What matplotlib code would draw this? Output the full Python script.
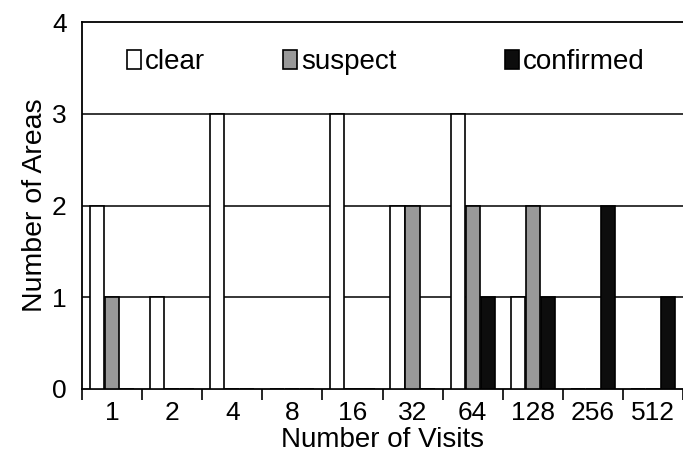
import matplotlib
matplotlib.use("Agg")
import matplotlib.pyplot as plt
import numpy as np

categories = ["1", "2", "4", "8", "16", "32", "64", "128", "256", "512"]
clear = [2, 1, 3, 0, 3, 2, 3, 1, 0, 0]
suspect = [1, 0, 0, 0, 0, 2, 2, 2, 0, 0]
confirmed = [0, 0, 0, 0, 0, 0, 1, 1, 2, 1]
series_names = ["clear", "suspect", "confirmed"]
y_ticks = [0, 1, 2, 3, 4]

plt.rcParams['font.family'] = ['Liberation Sans', 'DejaVu Sans']

W, H = 683, 459
fig = plt.figure(figsize=(W / 100, H / 100), dpi=100)
left_px, right_px, top_px, bot_px = 82, 683, 22, 389
ax = fig.add_axes([left_px / W, (H - bot_px) / H, (right_px - left_px) / W, (bot_px - top_px) / H])

x = np.arange(len(categories))
bw = 0.235
off = 0.25
lw = 1.2
b1 = ax.bar(x - off, clear, bw, color="white", edgecolor="black", linewidth=lw, zorder=3)
b2 = ax.bar(x, suspect, bw, color="#999999", edgecolor="black", linewidth=lw, zorder=3)
b3 = ax.bar(x + off, confirmed, bw, color="#0d0d0d", edgecolor="black", linewidth=lw, zorder=3)

ax.set_ylim(0, 4)
ax.set_xlim(-0.5, -0.5 + (right_px - left_px) / 60.5)
ax.set_yticks(y_ticks)
ax.set_yticklabels([str(v) for v in y_ticks], fontsize=19)
ax.tick_params(axis='y', length=0, pad=11)
for yv in y_ticks[1:4]:
    ax.axhline(yv, color="black", linewidth=1.1, zorder=1)

# boundaries as major ticks, labels on minor
ax.set_xticks(np.arange(len(categories) + 1) - 0.5)
ax.set_xticklabels([])
ax.tick_params(axis='x', which='major', length=8, width=1.2, direction='out')
ax.set_xticks(x, minor=True)
ax.set_xticklabels(categories, minor=True, fontsize=19)
ax.tick_params(axis='x', which='minor', length=0, pad=9)

for s in ["left", "bottom", "top"]:
    ax.spines[s].set_linewidth(1.3)
ax.spines["right"].set_visible(False)

ax.set_xlabel("Number of Visits", fontsize=20, labelpad=1)
ax.set_ylabel("Number of Areas", fontsize=20.5, labelpad=3)

handles = [b1, b2, b3]
xs = [127, 283, 505]
for h, name, xp in zip(handles, series_names, xs):
    leg = fig.legend([h], [name], loc="center left",
                     bbox_to_anchor=(xp / W, (H - 62) / H),
                     frameon=False, fontsize=20, borderpad=0, borderaxespad=0,
                     handlelength=0.5, handleheight=0.65, handletextpad=0.15)

fig.savefig("out.png", dpi=100)
